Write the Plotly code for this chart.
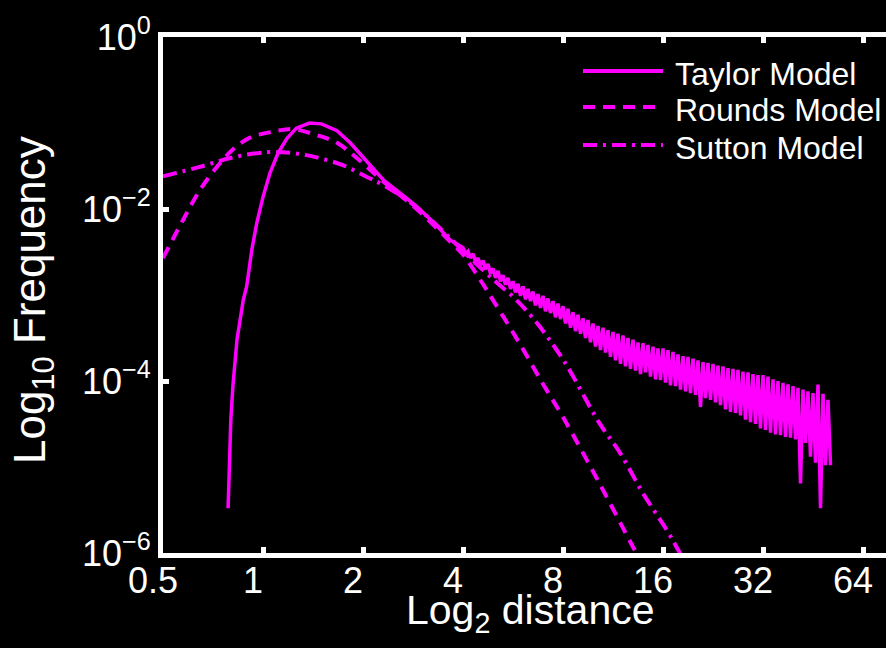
import plotly.graph_objects as go

# ---------------- data ----------------
# Taylor model: smooth head (distance, log10 frequency)
taylor_head_dist = [0.785, 0.80, 0.812, 0.835, 0.872, 0.893, 0.925, 0.957, 1.00, 1.05,
                    1.11, 1.18, 1.26, 1.38, 1.50, 1.67, 1.83, 1.92, 2.10, 2.30,
                    2.60, 2.90, 3.25, 3.66]
taylor_head_log10 = [-5.48, -4.45, -4.05, -3.52, -3.06, -2.90, -2.48, -2.17, -1.86, -1.58,
                     -1.35, -1.18, -1.06, -1.00, -1.01, -1.09, -1.23, -1.32, -1.50, -1.66,
                     -1.82, -1.97, -2.15, -2.36]
# Taylor model: noisy tail, binned in log2(distance)
taylor_tail_log2 = [
    2.000, 2.025, 2.050, 2.075, 2.100, 2.125, 2.150, 2.175, 2.200, 2.225,
    2.250, 2.275, 2.300, 2.325, 2.350, 2.375, 2.400, 2.425, 2.450, 2.475,
    2.500, 2.525, 2.550, 2.575, 2.600, 2.625, 2.650, 2.675, 2.700, 2.725,
    2.750, 2.775, 2.800, 2.825, 2.850, 2.875, 2.900, 2.925, 2.950, 2.975,
    3.000, 3.025, 3.050, 3.075, 3.100, 3.125, 3.150, 3.175, 3.200, 3.225,
    3.250, 3.275, 3.300, 3.325, 3.350, 3.375, 3.400, 3.425, 3.450, 3.475,
    3.500, 3.525, 3.550, 3.575, 3.600, 3.625, 3.650, 3.675, 3.700, 3.725,
    3.750, 3.775, 3.800, 3.825, 3.850, 3.875, 3.900, 3.925, 3.950, 3.975,
    4.000, 4.025, 4.050, 4.075, 4.100, 4.125, 4.150, 4.175, 4.200, 4.225,
    4.250, 4.275, 4.300, 4.325, 4.350, 4.375, 4.400, 4.425, 4.450, 4.475,
    4.500, 4.525, 4.550, 4.575, 4.600, 4.625, 4.650, 4.675, 4.700, 4.725,
    4.750, 4.775, 4.800, 4.825, 4.850, 4.875, 4.900, 4.925, 4.950, 4.975,
    5.000, 5.025, 5.050, 5.075, 5.100, 5.125, 5.150, 5.175, 5.200, 5.225,
    5.250, 5.275, 5.300, 5.325, 5.350, 5.375, 5.400, 5.425, 5.450, 5.475,
    5.500, 5.525, 5.550, 5.575, 5.600, 5.625, 5.650, 5.675]
taylor_tail_log10 = [
    -2.45, -2.52, -2.49, -2.57, -2.52, -2.61, -2.57, -2.65, -2.60, -2.70,
    -2.64, -2.75, -2.69, -2.80, -2.72, -2.84, -2.77, -2.88, -2.80, -2.93,
    -2.84, -2.97, -2.87, -3.01, -2.90, -3.05, -2.93, -3.07, -2.96, -3.12,
    -2.99, -3.15, -3.01, -3.19, -3.04, -3.21, -3.07, -3.26, -3.10, -3.28,
    -3.13, -3.33, -3.16, -3.38, -3.20, -3.42, -3.23, -3.45, -3.27, -3.50,
    -3.29, -3.55, -3.33, -3.60, -3.36, -3.64, -3.38, -3.67, -3.41, -3.72,
    -3.43, -3.76, -3.45, -3.80, -3.47, -3.83, -3.50, -3.86, -3.52, -3.88,
    -3.55, -3.92, -3.56, -3.90, -3.58, -3.95, -3.60, -3.98, -3.62, -3.99,
    -3.62, -4.02, -3.64, -4.05, -3.66, -4.06, -3.69, -4.10, -3.71, -4.12,
    -3.72, -4.14, -3.74, -4.16, -3.76, -4.30, -3.78, -4.20, -3.79, -4.22,
    -3.80, -4.25, -3.82, -4.28, -3.83, -4.33, -3.85, -4.36, -3.86, -4.37,
    -3.87, -4.40, -3.89, -4.45, -3.90, -4.48, -3.92, -4.50, -3.93, -4.55,
    -3.93, -4.57, -3.95, -4.60, -3.98, -4.62, -4.00, -4.63, -4.02, -4.65,
    -4.04, -4.66, -4.06, -4.68, -4.08, -5.19, -4.10, -4.72, -4.12, -4.88,
    -4.14, -4.95, -4.04, -5.48, -4.15, -4.98, -4.22, -4.98]

rounds_dist = [0.5, 0.574, 0.646, 0.727, 0.81, 0.914, 1.07, 1.15, 1.23, 1.45,
               1.67, 1.92, 2.30, 2.90, 3.66, 4.0, 4.5, 5.0, 6.0, 7.0,
               8.0, 10.3, 13.0, 14.0]
rounds_log10 = [-2.57, -2.13, -1.78, -1.51, -1.31, -1.17, -1.10, -1.08, -1.07, -1.14,
                -1.23, -1.41, -1.68, -2.00, -2.38, -2.53, -2.82, -3.10, -3.60, -4.05,
                -4.42, -5.19, -5.93, -6.15]

sutton_dist = [0.5, 0.646, 0.81, 1.03, 1.23, 1.45, 1.74, 2.06, 2.30, 2.90,
               3.66, 4.0, 5.0, 5.66, 6.5, 8.0, 10.3, 11.9, 13.9, 16.4,
               18.0, 19.0]
sutton_log10 = [-1.62, -1.51, -1.40, -1.34, -1.35, -1.40, -1.49, -1.63, -1.72, -1.98,
                -2.34, -2.49, -2.84, -3.02, -3.27, -3.75, -4.49, -4.84, -5.30, -5.73,
                -6.00, -6.15]

series_names = ["Taylor Model", "Rounds Model", "Sutton Model"]
x_tick_vals = [0.5, 1, 2, 4, 8, 16, 32, 64]
x_tick_text = ["0.5", "1", "2", "4", "8", "16", "32", "64"]
y_tick_vals = [1, 1e-2, 1e-4, 1e-6]
y_tick_text = ["10<sup>0</sup>", "10<sup>\u22122</sup>", "10<sup>\u22124</sup>", "10<sup>\u22126</sup>"]

# ---------------- figure ----------------
MAG = "#FF00FF"
FONT = "Liberation Sans, Arial, Helvetica, sans-serif"
W, H = 886, 648
L, R, T, B = 163, 0, 37, 95
PW, PH = W - L - R, H - T - B

dashes = ["solid", "12px,8px", "14px,6px,3px,6px"]

taylor_x = taylor_head_dist + [2 ** v for v in taylor_tail_log2]
taylor_y = [10 ** v for v in taylor_head_log10 + taylor_tail_log10]

fig = go.Figure()
fig.add_trace(go.Scatter(x=taylor_x, y=taylor_y, mode="lines",
                         name=series_names[0], line=dict(color=MAG, width=3.5, dash=dashes[0]),
                         showlegend=False))
fig.add_trace(go.Scatter(x=rounds_dist, y=[10 ** v for v in rounds_log10], mode="lines",
                         name=series_names[1], line=dict(color=MAG, width=4, dash=dashes[1], shape="spline"),
                         showlegend=False))
fig.add_trace(go.Scatter(x=sutton_dist, y=[10 ** v for v in sutton_log10], mode="lines",
                         name=series_names[2], line=dict(color=MAG, width=4, dash=dashes[2], shape="spline"),
                         showlegend=False))

def px2paper(px, py):
    return (px - L) / PW, (H - B - py) / PH

# custom legend (line samples + text)
legend_rows = [71, 107, 145]
shapes = []
annotations = []
for name, dash, ry in zip(series_names, dashes, legend_rows):
    x0, y0 = px2paper(583, ry)
    x1, _ = px2paper(663, ry)
    shapes.append(dict(type="line", xref="paper", yref="paper", x0=x0, x1=x1, y0=y0, y1=y0,
                       line=dict(color=MAG, width=4, dash=dash)))
    tx, ty = px2paper(673, ry + 3)
    annotations.append(dict(text=name, xref="paper", yref="paper", x=tx, y=ty,
                            xanchor="left", yanchor="middle", showarrow=False,
                            font=dict(family=FONT, size=32, color="white")))

# axis titles
ax, ay = px2paper(530, 613)
annotations.append(dict(text="Log<sub>2</sub> distance", xref="paper", yref="paper", x=ax, y=ay,
                        xanchor="center", yanchor="middle", showarrow=False,
                        font=dict(family=FONT, size=41, color="white")))
bx, by = px2paper(33, 300)
annotations.append(dict(text="Log<sub>10</sub> Frequency", xref="paper", yref="paper", x=bx, y=by,
                        xanchor="center", yanchor="middle", textangle=-90, showarrow=False,
                        font=dict(family=FONT, size=44, color="white")))

fig.update_layout(
    width=W, height=H,
    margin=dict(l=L, r=R, t=T, b=B, pad=0),
    paper_bgcolor="black", plot_bgcolor="black",
    font=dict(family=FONT, color="white"),
    showlegend=False,
    shapes=shapes,
    annotations=annotations,
)
fig.update_xaxes(type="log", range=[-0.30103, 1.8754],
                 tickmode="array", tickvals=x_tick_vals, ticktext=x_tick_text,
                 tickfont=dict(family=FONT, size=36, color="white"),
                 showgrid=False, zeroline=False,
                 showline=True, linecolor="white", linewidth=5, mirror="ticks",
                 ticks="inside", ticklen=6, tickwidth=5, tickcolor="white",
                 ticklabelshift=-10, ticklabelstandoff=-8)
fig.update_yaxes(type="log", range=[-6, 0],
                 tickmode="array", tickvals=y_tick_vals, ticktext=y_tick_text,
                 tickfont=dict(family=FONT, size=36, color="white"),
                 showgrid=False, zeroline=False,
                 showline=True, linecolor="white", linewidth=5, mirror=False,
                 ticks="inside", ticklen=6, tickwidth=5, tickcolor="white")

fig.write_html("out.html")
